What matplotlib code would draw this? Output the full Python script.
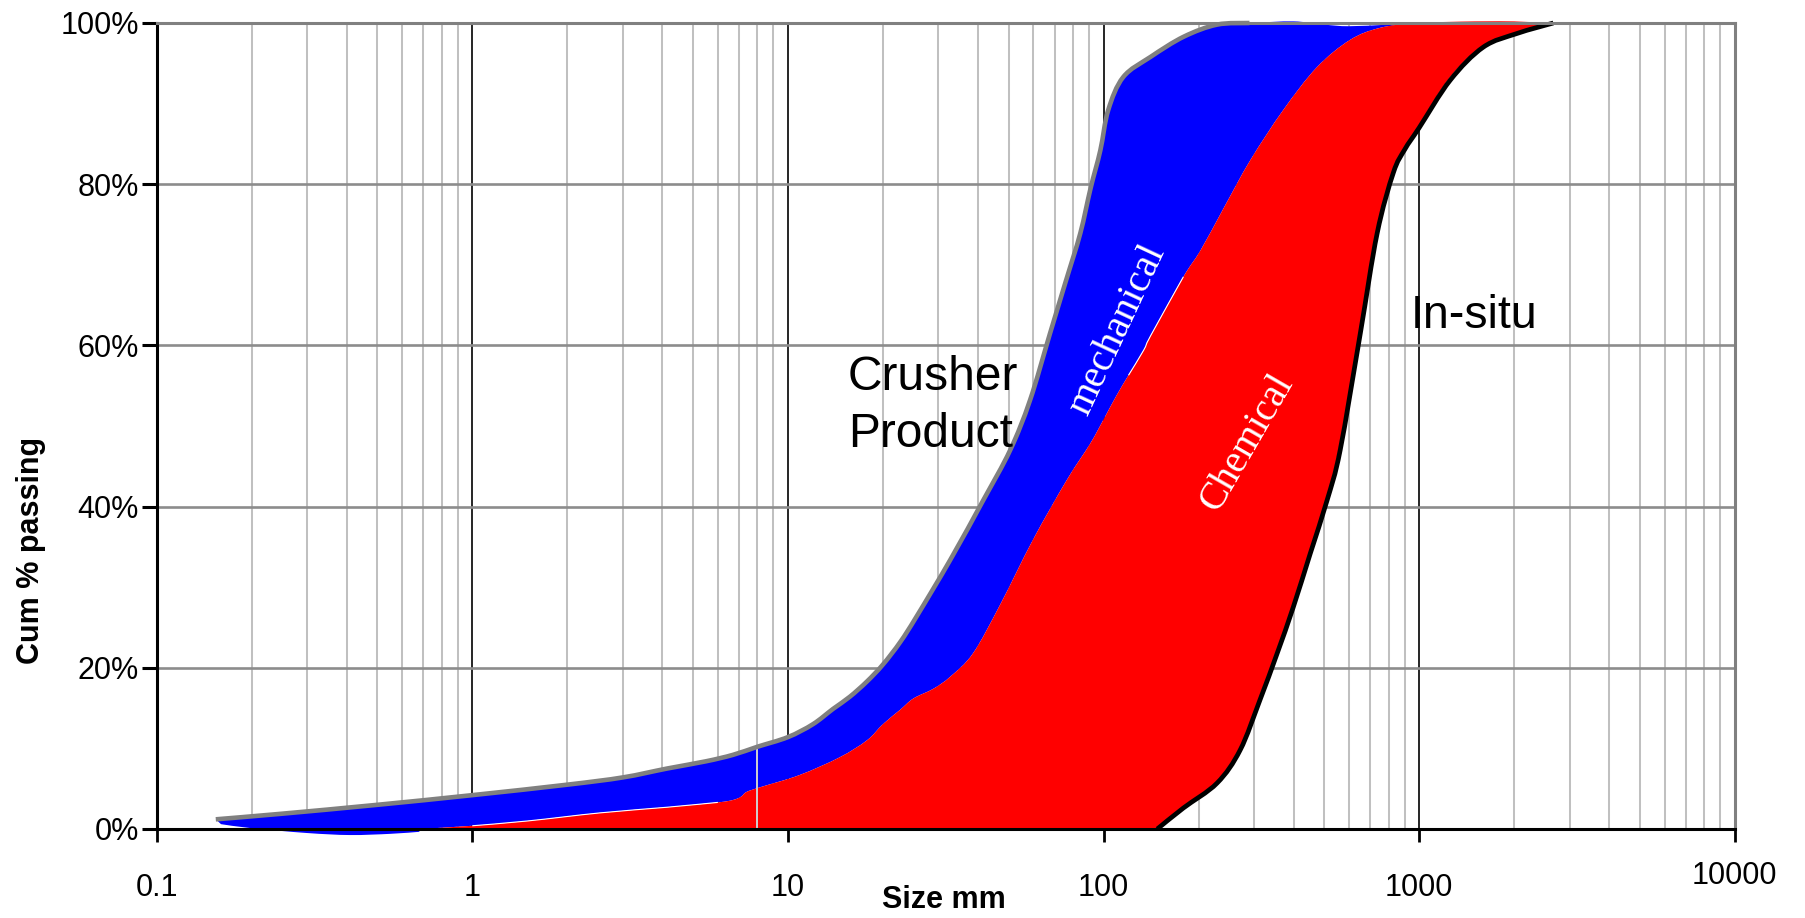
import numpy as np
import matplotlib
matplotlib.use("Agg")
import matplotlib.pyplot as plt
import matplotlib.transforms as mtransforms
from matplotlib.path import Path
from matplotlib.patches import PathPatch
from matplotlib.ticker import FixedLocator, NullFormatter, FixedFormatter

plt.rcParams['font.family'] = ['Liberation Sans', 'DejaVu Sans']

# Crusher product envelope (upper / fine side), size in mm vs cumulative % passing
crusher_size = [0.154, 0.25, 0.5, 1.0, 2.0, 3.0, 4.14, 5.5, 6.7, 8.0, 10.0, 12.0,
                13.9, 15.7, 17.8, 20.0, 22.7, 25.6, 32.7, 41.6, 50.6, 58.5, 67.7,
                76.0, 84.4, 91.0, 97.7, 103.5, 115.5, 141.0, 179.5, 229.0, 290.0]
crusher_pass = [1.2, 1.9, 3.0, 4.2, 5.5, 6.4, 7.5, 8.4, 9.2, 10.2, 11.4, 13.0,
                14.9, 16.4, 18.3, 20.4, 23.2, 26.4, 33.4, 40.8, 47.0, 53.2, 61.5,
                68.0, 73.9, 79.5, 84.2, 89.2, 93.3, 95.8, 98.3, 99.8, 100.0]

# top edge of the mechanical band beyond the crusher curve
mech_top_size = [400, 500, 600, 800, 1000]
mech_top_pass = [100.2, 99.8, 99.6, 99.8, 100.0]

# fines tail of the mechanical band (dips just under 0 %)
mech_tail_size = [0.16, 0.2, 0.3, 0.41, 0.55, 0.68]
mech_tail_pass = [0.6, 0.1, -0.5, -0.75, -0.6, -0.35]

# chemical band: fine-side boundary
chem_size = [0.68, 1.0, 1.5, 2.54, 4.14, 6.0, 6.7, 7.1, 7.4, 8.2, 10.9, 14.6,
             17.8, 20.0, 22.7, 25.0, 28.9, 32.7, 38.6, 47.0, 59.8, 76.5, 90.7,
             100, 110, 120, 134, 141, 179, 203, 240, 292, 371, 474, 604, 752, 984]
chem_pass = [0.0, 0.4, 1.0, 2.0, 2.7, 3.3, 3.6, 4.0, 4.6, 5.2, 6.7, 8.9,
             11.0, 13.0, 14.8, 16.2, 17.4, 18.9, 21.8, 27.8, 35.9, 43.3, 47.8,
             50.8, 53.8, 56.3, 59.4, 61.2, 68.5, 71.8, 77.0, 83.0, 89.2, 94.5,
             97.9, 99.4, 100.0]

# top edge of the chemical band
chem_top_size = [1500, 2000]
chem_top_pass = [100.2, 100.2]

# chemical band: coarse-side boundary
chem_edge_size = [148, 179, 229, 271, 313, 355, 399, 452, 511, 555, 620, 690,
                  760, 850, 1000, 1254, 1596, 2042, 2661]
chem_edge_pass = [0.0, 2.6, 5.8, 10.0, 16.3, 22.2, 28.0, 34.7, 41.3, 47.0, 57.5,
                  68.5, 76.8, 82.3, 87.3, 93.3, 97.2, 98.9, 100.0]

# in-situ block size distribution
insitu_size = [148, 179, 229, 271, 313, 355, 399, 452, 511, 562, 651, 736, 828,
               900, 1000, 1254, 1596, 2042, 2661]
insitu_pass = [0.0, 2.6, 5.7, 9.8, 16.0, 21.8, 27.5, 34.2, 40.8, 47.0, 61.5,
               73.9, 81.4, 84.3, 87.0, 92.9, 97.0, 98.7, 100.0]

x_ticks = [0.1, 1, 10, 100, 1000, 10000]
x_labels = ["0.1", "1", "10", "100", "1000", "10000"]
y_ticks = [0, 20, 40, 60, 80, 100]
y_labels = ["0%", "20%", "40%", "60%", "80%", "100%"]


def smooth_pieces(pieces, closed=False):
    """Build a Path through the given (size, pass) runs, using cubic
    Catmull-Rom segments in log-size space; runs are joined by straight lines."""
    verts, codes = [], []
    for k, (xs, ys) in enumerate(pieces):
        P = np.column_stack([np.log10(np.asarray(xs, float)),
                             np.asarray(ys, float)])
        n = len(P)
        verts.append(P[0])
        codes.append(Path.MOVETO if k == 0 else Path.LINETO)
        for i in range(n - 1):
            p0 = P[i - 1] if i > 0 else P[i]
            p1, p2 = P[i], P[i + 1]
            p3 = P[i + 2] if i + 2 < n else P[i + 1]
            c1 = p1 + (p2 - p0) / 6.0
            c2 = p2 - (p3 - p1) / 6.0
            verts += [c1, c2, p2]
            codes += [Path.CURVE4] * 3
    if closed:
        verts.append(verts[0]); codes.append(Path.CLOSEPOLY)
    v = np.array(verts)
    v[:, 0] = 10.0 ** v[:, 0]
    return Path(v, codes)


fig = plt.figure(figsize=(18.05, 9.18), dpi=100)
ax = fig.add_axes([0.08676, 0.09695, 0.87435, 0.87800])
ax.set_xscale('log')
ax.set_xlim(0.1, 10000)
ax.set_ylim(0, 100)

# mechanical band
blue_path = smooth_pieces([
    (crusher_size + mech_top_size, crusher_pass + mech_top_pass),
    (chem_size[::-1], chem_pass[::-1]),
    (mech_tail_size[::-1], mech_tail_pass[::-1]),
], closed=True)
ax.add_patch(PathPatch(blue_path, facecolor='#0000ff', lw=0, zorder=2,
                       clip_on=False, transform=ax.transData))

# chemical band
red_path = smooth_pieces([
    (chem_size + chem_top_size, chem_pass + chem_top_pass),
    (chem_edge_size[::-1], chem_edge_pass[::-1]),
], closed=True)
ax.add_patch(PathPatch(red_path, facecolor='#ff0000', lw=0, zorder=3,
                       clip_on=False, transform=ax.transData))

# thin light seams between the bands
cs = np.array(chem_size, dtype=float)
cp = np.array(chem_pass, dtype=float)
for lo, hi in [(0.9, 6.0), (120, 190)]:
    m = (cs >= lo) & (cs <= hi)
    ax.add_patch(PathPatch(smooth_pieces([(cs[m], cp[m])]), fill=False,
                           edgecolor='white', lw=0.8, zorder=3.5,
                           transform=ax.transData))

# sieve line at 8 mm drawn over the bands
ax.plot([8, 8], [0, 10.2], color='#d0d0d0', lw=1.4, zorder=3.6)

# envelope lines
ax.add_patch(PathPatch(smooth_pieces([(crusher_size, crusher_pass)]), fill=False,
                       edgecolor='#808080', lw=3.3, capstyle='butt', zorder=4,
                       clip_on=False, transform=ax.transData))
ax.add_patch(PathPatch(smooth_pieces([(insitu_size, insitu_pass)]), fill=False,
                       edgecolor='black', lw=3.4, capstyle='butt', zorder=4,
                       clip_on=False, transform=ax.transData))

# grid
ax.set_axisbelow(True)
ax.xaxis.set_major_locator(FixedLocator(x_ticks))
ax.xaxis.set_major_formatter(FixedFormatter(x_labels))
minor = [m * 10.0 ** k for k in range(-1, 4) for m in range(2, 10)]
ax.xaxis.set_minor_locator(FixedLocator(minor))
ax.xaxis.set_minor_formatter(NullFormatter())
ax.yaxis.set_major_locator(FixedLocator(y_ticks))
ax.yaxis.set_major_formatter(FixedFormatter(y_labels))
ax.grid(which='major', axis='x', color='black', lw=1.2)
ax.grid(which='minor', axis='x', color='#c0c0c0', lw=1.45)
ax.grid(which='major', axis='y', color='#8c8c8c', lw=1.9)

ax.tick_params(axis='x', which='major', length=9, width=2, direction='out',
               pad=23, labelsize=22, color='black')
ax.tick_params(axis='x', which='minor', length=0)
ax.tick_params(axis='y', which='major', length=10.8, width=2.2, direction='out',
               pad=2, labelsize=22, color='black')

for side in ['left', 'bottom']:
    ax.spines[side].set_color('black')
    ax.spines[side].set_linewidth(2.2)
    ax.spines[side].set_zorder(6)
for side in ['top', 'right']:
    ax.spines[side].set_color('#808080')
    ax.spines[side].set_linewidth(2.2)
    ax.spines[side].set_zorder(6)

# annotations
ax.text(15.5, 54.5, "Crusher", fontsize=34.5, ha='left', va='baseline', zorder=5)
ax.text(15.5, 47.4, "Product", fontsize=34.5, ha='left', va='baseline', zorder=5)
ax.text(943, 62.2, "In-situ", fontsize=33.5, ha='left', va='baseline', zorder=5)
ax.text(110.4, 61.9, "mechanical", fontsize=29, family='Liberation Serif',
        color='white', rotation=65, ha='center', va='center',
        rotation_mode='anchor', zorder=5)
ax.text(285, 47.9, "Chemical", fontsize=28.5, family='Liberation Serif',
        color='white', rotation=60, ha='center', va='center',
        rotation_mode='anchor', zorder=5)

fig.text(944 / 1805, 1 - 900 / 918, "Size mm", fontsize=22, fontweight='bold',
         ha='center', va='center')
fig.text(31 / 1805, 1 - 550 / 918, "Cum % passing", fontsize=22,
         fontweight='bold', rotation=90, ha='center', va='center')

fig.canvas.draw()
last = ax.get_xticklabels()[-1]
last.set_transform(last.get_transform() +
                   mtransforms.ScaledTranslation(0, 9 / 72, fig.dpi_scale_trans))

fig.savefig("out.png", dpi=100, facecolor='white')
